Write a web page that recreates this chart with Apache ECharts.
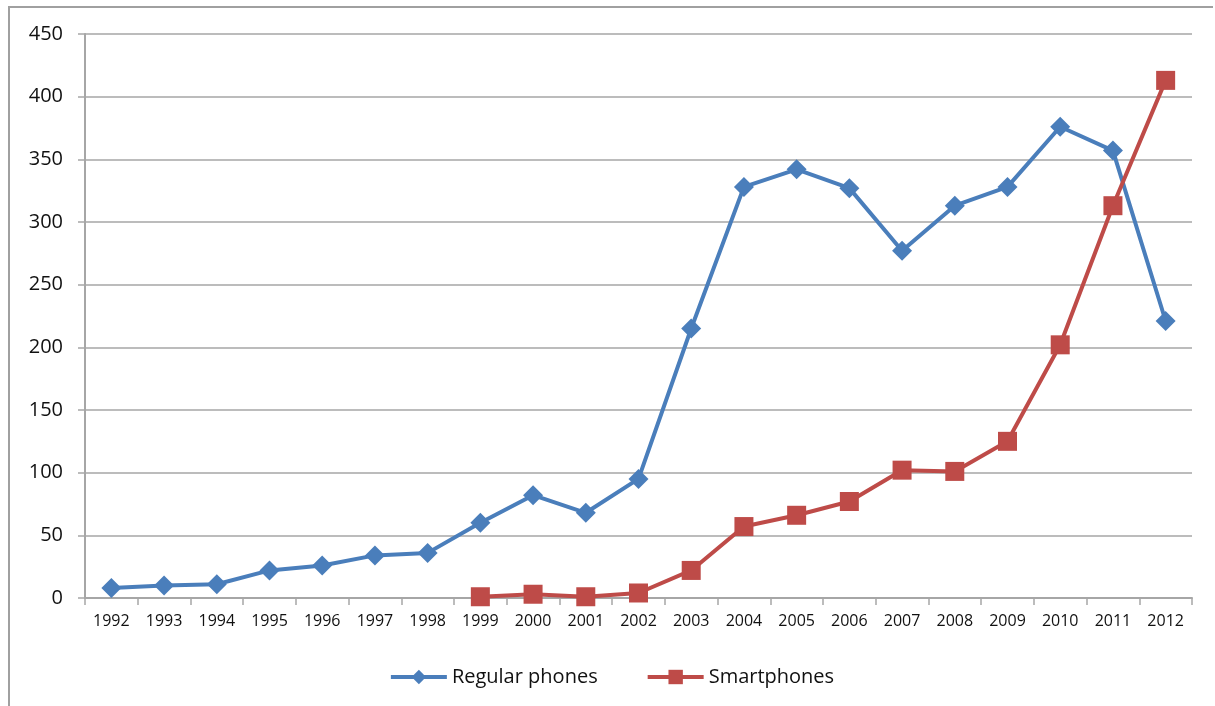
<!DOCTYPE html>
<html>
<head>
<meta charset="utf-8">
<script src="https://cdn.jsdelivr.net/npm/echarts@6/dist/echarts.min.js"></script>
<style>
  html, body { margin: 0; padding: 0; background: #fff; }
  #chart {
    position: absolute; left: 8px; top: 6px;
    width: 1205px; height: 700px;
    border-left: 2px solid #a0a0a0; border-top: 2px solid #a0a0a0;
    box-sizing: border-box;
  }
</style>
</head>
<body>
<div id="chart"></div>
<script>
const years = ["1992", "1993", "1994", "1995", "1996", "1997", "1998", "1999", "2000", "2001", "2002",
  "2003", "2004", "2005", "2006", "2007", "2008", "2009", "2010", "2011", "2012"];
const regularPhones = [8, 10, 11, 22, 26, 34, 36, 60, 82, 68, 95,
  215, 328, 342, 327, 277, 313, 328, 376, 357, 221];
const smartphones = [null, null, null, null, null, null, null, 1, 3, 1, 4,
  22, 57, 66, 77, 102, 101, 125, 202, 313, 413];

const chart = echarts.init(document.getElementById("chart"));

const option = {
  animation: false,
  textStyle: { fontFamily: "Open Sans, Liberation Sans, sans-serif" },
  grid: {
    left: 75,
    right: 21,
    top: 26,
    bottom: 108,
  },
  legend: {
    bottom: 14,
    left: "center",
    itemWidth: 56,
    itemHeight: 18,
    itemGap: 48,
    lineStyle: { width: 4 },
    textStyle: { fontSize: 20, color: "#111" },
    data: ["Regular phones", "Smartphones"],
  },
  xAxis: {
    type: "category",
    data: years,
    boundaryGap: true,
    axisLine: { lineStyle: { color: "#a6a6a6", width: 2 } },
    axisTick: { show: true, alignWithLabel: false, length: 7, lineStyle: { color: "#a6a6a6", width: 1.5 } },
    axisLabel: { color: "#111", fontSize: 16, margin: 15 },
  },
  yAxis: {
    type: "value",
    min: 0,
    max: 450,
    interval: 50,
    axisLine: { show: true, lineStyle: { color: "#a6a6a6", width: 2 } },
    axisTick: { show: true, length: 7, lineStyle: { color: "#a6a6a6", width: 1.5 } },
    axisLabel: { color: "#111", fontSize: 20, margin: 22 },
    splitLine: { lineStyle: { color: "#a6a6a6", width: 1.5 } },
  },
  series: [
    {
      name: "Regular phones",
      type: "line",
      data: regularPhones,
      symbol: "diamond",
      symbolSize: 20,
      lineStyle: { color: "#4a7ebb", width: 4 },
      itemStyle: { color: "#4a7ebb" },
    },
    {
      name: "Smartphones",
      type: "line",
      data: smartphones,
      symbol: "rect",
      symbolSize: 19,
      lineStyle: { color: "#be4b48", width: 4 },
      itemStyle: { color: "#be4b48" },
    },
  ],
};

chart.setOption(option);
</script>
</body>
</html>
